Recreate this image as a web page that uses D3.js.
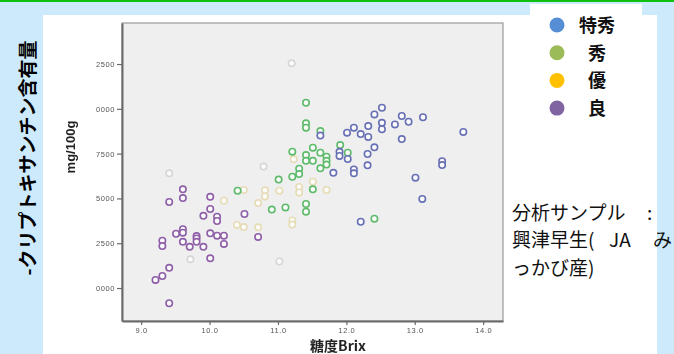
<!DOCTYPE html>
<html>
<head>
<meta charset="utf-8">
<script src="https://cdn.jsdelivr.net/npm/d3@7"></script>
<style>
  html, body { margin: 0; padding: 0; background: #cdeafc; }
  svg { display: block; }
</style>
</head>
<body>
<svg id="chart" width="674" height="354"></svg>
<script>
// Grades of the fruit and their legend colours
const categories = ["特秀", "秀", "優", "良"];
const legendColors = ["#558ed5", "#9bbb59", "#ffc000", "#8064a2"];
const pointColors = ["#6870b5", "#5dbb6b", "#e6dcb6", "#8e5ea8"];

// 特秀 : sugar content (Brix) and β-cryptoxanthin content
const tokushuBrix = [12.52, 12.41, 12.81, 13.12, 12.91, 12.71, 12.52, 12.52, 12.32, 12.11,
  12.01, 12.21, 12.32, 13.71, 12.81, 12.41, 12.31, 12.02, 13.40, 13.40,
  12.31, 12.11, 12.11, 11.81, 13.01, 13.11, 12.21, 11.62, 11.90, 11.90];
const tokushuContent = [1.006, 0.969, 0.960, 0.953, 0.928, 0.913, 0.922, 0.886, 0.904, 0.895,
  0.867, 0.859, 0.843, 0.871, 0.831, 0.785, 0.748, 0.720, 0.708, 0.686,
  0.685, 0.662, 0.640, 0.643, 0.616, 0.497, 0.370, 0.851, 0.760, 0.737];

// 秀
const shuBrix = [11.41, 11.41, 11.41, 11.62, 11.51, 11.21, 11.41, 11.62, 11.71, 11.51,
  11.41, 11.71, 11.71, 11.62, 11.31, 11.31, 11.21, 11.01, 11.51, 10.41,
  11.41, 11.41, 11.11, 10.91, 11.91, 12.02, 12.41];
const shuContent = [1.034, 0.919, 0.895, 0.876, 0.783, 0.761, 0.742, 0.755, 0.733, 0.710,
  0.710, 0.710, 0.689, 0.668, 0.666, 0.636, 0.621, 0.605, 0.551, 0.543,
  0.469, 0.426, 0.450, 0.438, 0.798, 0.755, 0.387];

// 優
const yuBrix = [10.21, 10.50, 10.71, 10.81, 10.81, 11.02, 11.31, 11.31, 11.51, 11.71,
  11.21, 11.21, 10.71, 10.50, 10.40, 11.23];
const yuContent = [0.487, 0.547, 0.474, 0.545, 0.511, 0.543, 0.564, 0.533, 0.593, 0.547,
  0.377, 0.354, 0.339, 0.340, 0.352, 0.718];

// 良
const ryoBrix = [9.61, 9.61, 9.41, 10.01, 10.01, 9.91, 10.11, 10.11, 10.51, 9.61,
  9.61, 9.51, 10.01, 10.11, 10.21, 9.81, 9.81, 9.61, 9.81, 9.31,
  9.31, 9.71, 9.91, 10.21, 10.71, 10.01, 9.41, 9.31, 9.21, 9.41];
const ryoContent = [0.551, 0.502, 0.480, 0.509, 0.441, 0.403, 0.398, 0.374, 0.413, 0.328,
  0.309, 0.303, 0.305, 0.292, 0.292, 0.290, 0.277, 0.258, 0.258, 0.264,
  0.234, 0.230, 0.230, 0.246, 0.285, 0.166, 0.113, 0.067, 0.045, -0.085];

// Samples without a grade, drawn faintly
const ungradedBrix = [11.20, 9.41, 10.79, 9.72, 11.02];
const ungradedContent = [1.254, 0.640, 0.678, 0.160, 0.148];

// Axis ticks
const xTicks = [9.0, 10.0, 11.0, 12.0, 13.0, 14.0];
const yTicks = [0, 0.25, 0.5, 0.75, 1.0, 1.25];

const svg = d3.select("#chart");

// Backdrop: blue page, green rule, white panel, legend box
svg.append("rect").attr("x", 0).attr("y", 0).attr("width", 674).attr("height", 354).attr("fill", "#cdeafc");
svg.append("rect").attr("x", 0).attr("y", 0).attr("width", 674).attr("height", 2).attr("fill", "#10c010");
svg.append("rect").attr("x", 43).attr("y", 15).attr("width", 614).attr("height", 339).attr("fill", "#ffffff");
svg.append("rect").attr("x", 530).attr("y", 4).attr("width", 112).attr("height", 130).attr("fill", "#ffffff");

const defs = svg.append("defs");
defs.append("filter").attr("id", "soft")
  .append("feGaussianBlur").attr("stdDeviation", 0.45);
// the pasted chart image is trimmed on its left edge
defs.append("clipPath").attr("id", "leftTrim")
  .append("rect").attr("x", 95).attr("y", 15).attr("width", 60).attr("height", 320);

// Scatter plot panel
const x = d3.scaleLinear().domain([8.72, 14.29]).range([122, 503]);
const y = d3.scaleLinear().domain([-0.184, 1.479]).range([321, 23]);

const chart = svg.append("g").attr("filter", "url(#soft)");

chart.append("rect")
  .attr("x", x.range()[0]).attr("y", y.range()[1])
  .attr("width", x.range()[1] - x.range()[0])
  .attr("height", y.range()[0] - y.range()[1])
  .attr("fill", "#efefef").attr("stroke", "#9a9a9a").attr("stroke-width", 1.2);

const yAxis = chart.append("g").attr("clip-path", "url(#leftTrim)")
  .append("g")
  .attr("transform", `translate(${x.range()[0]},0)`)
  .call(d3.axisLeft(y).tickValues(yTicks).tickSize(5).tickSizeOuter(0)
    .tickFormat(d => d3.format(".4f")(d).replace(/^0/, "")));
yAxis.select(".domain").attr("stroke", "#6a6a6a").attr("stroke-width", 2);
yAxis.selectAll(".tick line").attr("stroke", "#6a6a6a").attr("stroke-width", 1.2);
yAxis.selectAll(".tick text").attr("fill", "#555").attr("font-size", 7.5)
  .attr("font-family", "Liberation Sans, Arial, sans-serif").attr("letter-spacing", 0.6)
  .attr("x", -7);

const xAxis = chart.append("g")
  .attr("transform", `translate(0,${y.range()[0]})`)
  .call(d3.axisBottom(x).tickValues(xTicks).tickSize(4).tickSizeOuter(0).tickFormat(d3.format(".1f")));
xAxis.select(".domain").attr("stroke", "#6a6a6a").attr("stroke-width", 2);
xAxis.selectAll(".tick line").attr("stroke", "#6a6a6a").attr("stroke-width", 1.2);
xAxis.selectAll(".tick text").attr("fill", "#555").attr("font-size", 7.5)
  .attr("font-family", "Liberation Sans, Arial, sans-serif").attr("letter-spacing", 0.6)
  .attr("dy", "0.6em");

// Points
const series = [
  { brix: ungradedBrix, content: ungradedContent, color: "#d6d6d6" },
  { brix: yuBrix, content: yuContent, color: pointColors[2] },
  { brix: ryoBrix, content: ryoContent, color: pointColors[3] },
  { brix: shuBrix, content: shuContent, color: pointColors[1] },
  { brix: tokushuBrix, content: tokushuContent, color: pointColors[0] }
];
series.forEach(s => {
  chart.append("g").selectAll("circle")
    .data(s.brix.map((b, i) => [b, s.content[i]]))
    .join("circle")
    .attr("cx", d => x(d[0])).attr("cy", d => y(d[1]))
    .attr("r", 3.2)
    .attr("fill", "#fbfbfb")
    .attr("stroke", s.color).attr("stroke-width", 1.6);
});

// Axis titles
chart.append("text")
  .attr("transform", "translate(75,147) rotate(-90)")
  .attr("text-anchor", "middle")
  .attr("font-family", "Liberation Sans, Arial, sans-serif").attr("font-weight", "bold")
  .attr("font-size", 13).attr("fill", "#222")
  .text("mg/100g");

chart.append("text")
  .attr("x", 338).attr("y", 351)
  .attr("text-anchor", "middle")
  .attr("font-family", "Noto Sans CJK JP, sans-serif").attr("font-weight", "bold")
  .attr("font-size", 14).attr("fill", "#222")
  .text("糖度Brix");

// Outer title on the blue strip
svg.append("text")
  .attr("transform", "translate(35,158) rotate(-90)")
  .attr("text-anchor", "middle")
  .attr("font-family", "Noto Sans CJK JP, sans-serif").attr("font-weight", "bold")
  .attr("font-size", 19).attr("fill", "#000")
  .text("-クリプトキサンチン含有量");

// Legend
const legend = svg.append("g");
categories.forEach((c, i) => {
  const cy = 25 + i * 27.7;
  legend.append("circle").attr("cx", 557).attr("cy", cy).attr("r", 7.5).attr("fill", legendColors[i]);
  legend.append("text").attr("x", 597).attr("y", cy + 7)
    .attr("text-anchor", "middle")
    .attr("font-family", "Noto Sans CJK JP, sans-serif").attr("font-weight", "bold")
    .attr("font-size", 18).attr("fill", "#111")
    .text(c);
});

// Sample note
const note = svg.append("text")
  .attr("font-family", "Noto Sans CJK JP, sans-serif")
  .attr("font-size", 19).attr("fill", "#111");
note.append("tspan").attr("x", 512).attr("y", 220).text("分析サンプル");
note.append("tspan").attr("x", 647).attr("y", 220).text(":");
note.append("tspan").attr("x", 512).attr("y", 247).text("興津早生(");
note.append("tspan").attr("x", 609).attr("y", 247).text("JA");
note.append("tspan").attr("x", 653).attr("y", 247).text("み");
note.append("tspan").attr("x", 512).attr("y", 275).text("っかび産)");
</script>
</body>
</html>
